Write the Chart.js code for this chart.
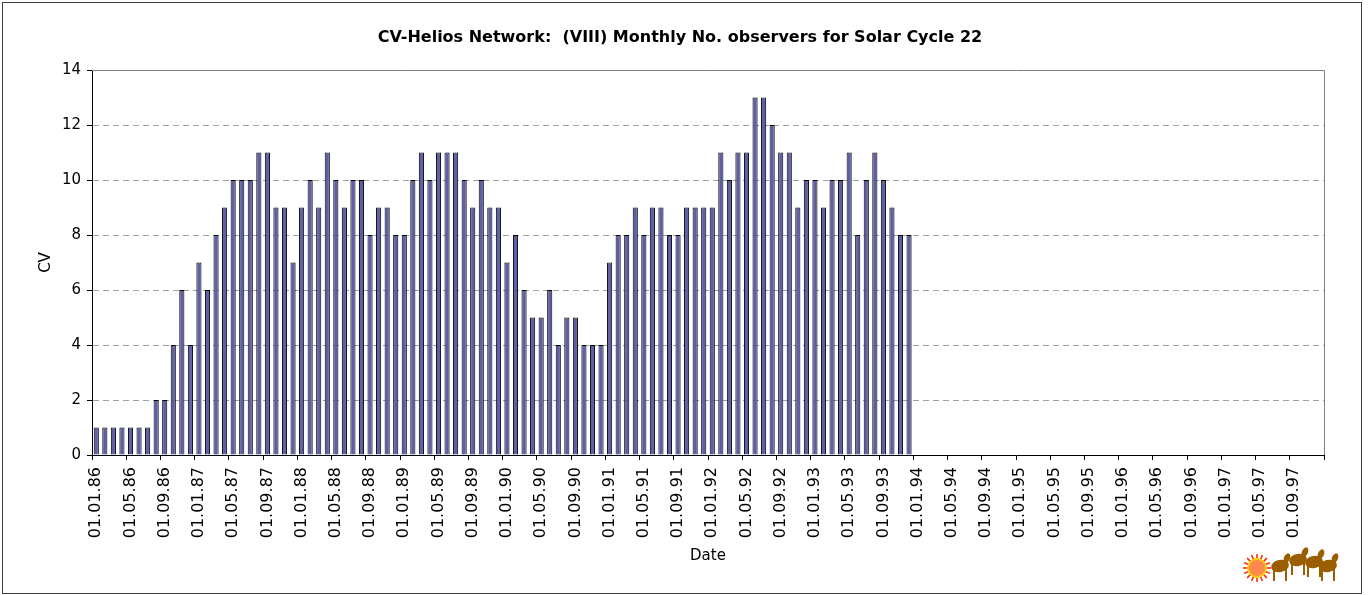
<!DOCTYPE html>
<html lang="en">
<head>
    <meta charset="UTF-8">
    <title>CV-Helios Network: Monthly No. observers for Solar Cycle 22</title>
    <script src="https://cdn.jsdelivr.net/npm/chart.js"></script>
    <style>
        body {
            margin: 0;
            padding: 0;
            background-color: #fff;
        }

        #chart-container {
            position: relative;
            width: 1371px;
            height: 595px;
        }
    </style>
</head>
<body>
    <div id="chart-container">
        <canvas id="cvChart"></canvas>
    </div>

    <script>
        // month labels: 01.MM.YY, Jan 1986 .. Dec 1997
        const years = ['86', '87', '88', '89', '90', '91', '92', '93', '94', '95', '96', '97'];
        const months = ['01', '02', '03', '04', '05', '06', '07', '08', '09', '10', '11', '12'];

        // monthly number of observers, one row per year (1986-1993)
        const obs86 = [1, 1, 1, 1, 1, 1, 1, 2, 2, 4, 6, 4];
        const obs87 = [7, 6, 8, 9, 10, 10, 10, 11, 11, 9, 9, 7];
        const obs88 = [9, 10, 9, 11, 10, 9, 10, 10, 8, 9, 9, 8];
        const obs89 = [8, 10, 11, 10, 11, 11, 11, 10, 9, 10, 9, 9];
        const obs90 = [7, 8, 6, 5, 5, 6, 4, 5, 5, 4, 4, 4];
        const obs91 = [7, 8, 8, 9, 8, 9, 9, 8, 8, 9, 9, 9];
        const obs92 = [9, 11, 10, 11, 11, 13, 13, 12, 11, 11, 9, 10];
        const obs93 = [10, 9, 10, 10, 11, 8, 10, 11, 10, 9, 8, 8];

        const yTicks = [0, 2, 4, 6, 8, 10, 12, 14];

        const titleText = 'CV-Helios Network:  (VIII) Monthly No. observers for Solar Cycle 22';

        const labels = [];
        years.forEach(y => months.forEach(m => labels.push(`01.${m}.${y}`)));

        const observers = [].concat(obs86, obs87, obs88, obs89, obs90, obs91, obs92, obs93);

        const FONT = "'DejaVu Sans', Verdana, sans-serif";

        const framePlugin = {
            id: 'frame',
            afterDraw(chart) {
                const { ctx, chartArea: a } = chart;
                ctx.save();
                // title, centred on the whole picture
                ctx.fillStyle = '#000';
                ctx.font = `bold 16px ${FONT}`;
                ctx.textAlign = 'center';
                ctx.textBaseline = 'middle';
                ctx.fillText(titleText, 680, 38);

                // plot area top / right edge
                ctx.strokeStyle = '#808080';
                ctx.lineWidth = 1;
                ctx.beginPath();
                ctx.moveTo(a.left, Math.round(a.top) + 0.5);
                ctx.lineTo(Math.round(a.right) + 0.5, Math.round(a.top) + 0.5);
                ctx.lineTo(Math.round(a.right) + 0.5, a.bottom);
                ctx.stroke();
                // outer chart border
                ctx.strokeStyle = '#404040';
                ctx.strokeRect(2.5, 2.5, 1359, 591);

                // little logo bottom right: sun + horses
                const sx = 1257, sy = 568;
                ctx.strokeStyle = '#ff2000';
                ctx.lineWidth = 1.5;
                for (let i = 0; i < 16; i++) {
                    const ang = i * Math.PI / 8;
                    ctx.beginPath();
                    ctx.moveTo(sx + Math.cos(ang) * 8, sy + Math.sin(ang) * 8);
                    ctx.lineTo(sx + Math.cos(ang) * 14, sy + Math.sin(ang) * 14);
                    ctx.stroke();
                }
                ctx.fillStyle = '#ffd000';
                ctx.beginPath();
                ctx.arc(sx, sy, 10, 0, Math.PI * 2);
                ctx.fill();
                ctx.fillStyle = '#ff8850';
                ctx.beginPath();
                ctx.arc(sx, sy, 8, 0, Math.PI * 2);
                ctx.fill();

                ctx.fillStyle = '#9a5e00';
                const horses = [[1280, 566], [1298, 560], [1314, 562], [1328, 566]];
                horses.forEach(([hx, hy]) => {
                    ctx.beginPath();
                    ctx.ellipse(hx, hy, 9, 6, -0.2, 0, Math.PI * 2);
                    ctx.fill();
                    ctx.beginPath();
                    ctx.ellipse(hx + 7, hy - 8, 3, 5, 0.4, 0, Math.PI * 2);
                    ctx.fill();
                    ctx.fillRect(hx - 7, hy + 3, 2, 12);
                    ctx.fillRect(hx + 5, hy + 3, 2, 12);
                });
                ctx.restore();
            }
        };

        const ctx = document.getElementById('cvChart').getContext('2d');
        new Chart(ctx, {
            type: 'bar',
            data: {
                labels: labels,
                datasets: [{
                    label: 'CV',
                    data: observers,
                    backgroundColor: '#5f5fa8',
                    borderColor: '#000',
                    borderWidth: 1,
                    barPercentage: 0.6,
                    categoryPercentage: 1.0
                }]
            },
            options: {
                responsive: true,
                maintainAspectRatio: false,
                animation: false,
                layout: {
                    padding: { left: 0, right: 47, top: 70, bottom: 0 }
                },
                plugins: {
                    legend: { display: false },
                    tooltip: { enabled: false },
                    title: { display: false }
                },
                scales: {
                    x: {
                        afterFit: s => { s.height = 140; },
                        border: { color: '#000', width: 1 },
                        grid: {
                            offset: true,
                            drawOnChartArea: false,
                            tickLength: 5,
                            tickColor: c => (c.index === undefined || c.index % 4 === 0) ? '#000' : 'rgba(0,0,0,0)'
                        },
                        ticks: {
                            autoSkip: false,
                            minRotation: 90,
                            maxRotation: 90,
                            padding: 7,
                            color: '#000',
                            font: { family: FONT, size: 16 },
                            callback: function (value, index) {
                                return index % 4 === 0 ? labels[index] : '';
                            }
                        },
                        title: {
                            display: true,
                            text: 'Date',
                            color: '#000',
                            font: { family: FONT, size: 15 },
                            padding: { top: 0, bottom: 30 }
                        }
                    },
                    y: {
                        min: yTicks[0],
                        max: yTicks[yTicks.length - 1],
                        afterFit: s => { s.width = 92; },
                        afterBuildTicks: s => { s.ticks = yTicks.map(v => ({ value: v })); },
                        border: { color: '#000', width: 1, dash: [6, 4] },
                        grid: {
                            color: c => (c.tick && (c.tick.value === 0 || c.tick.value === 14)) ? 'rgba(0,0,0,0)' : '#a0a0a0',
                            tickColor: '#000',
                            tickLength: 5
                        },
                        ticks: {
                            padding: 6,
                            color: '#000',
                            font: { family: FONT, size: 15 }
                        },
                        title: {
                            display: true,
                            text: 'CV',
                            color: '#000',
                            font: { family: FONT, size: 15 },
                            padding: { top: 37, bottom: 0 }
                        }
                    }
                }
            },
            plugins: [framePlugin]
        });
    </script>
</body>
</html>
